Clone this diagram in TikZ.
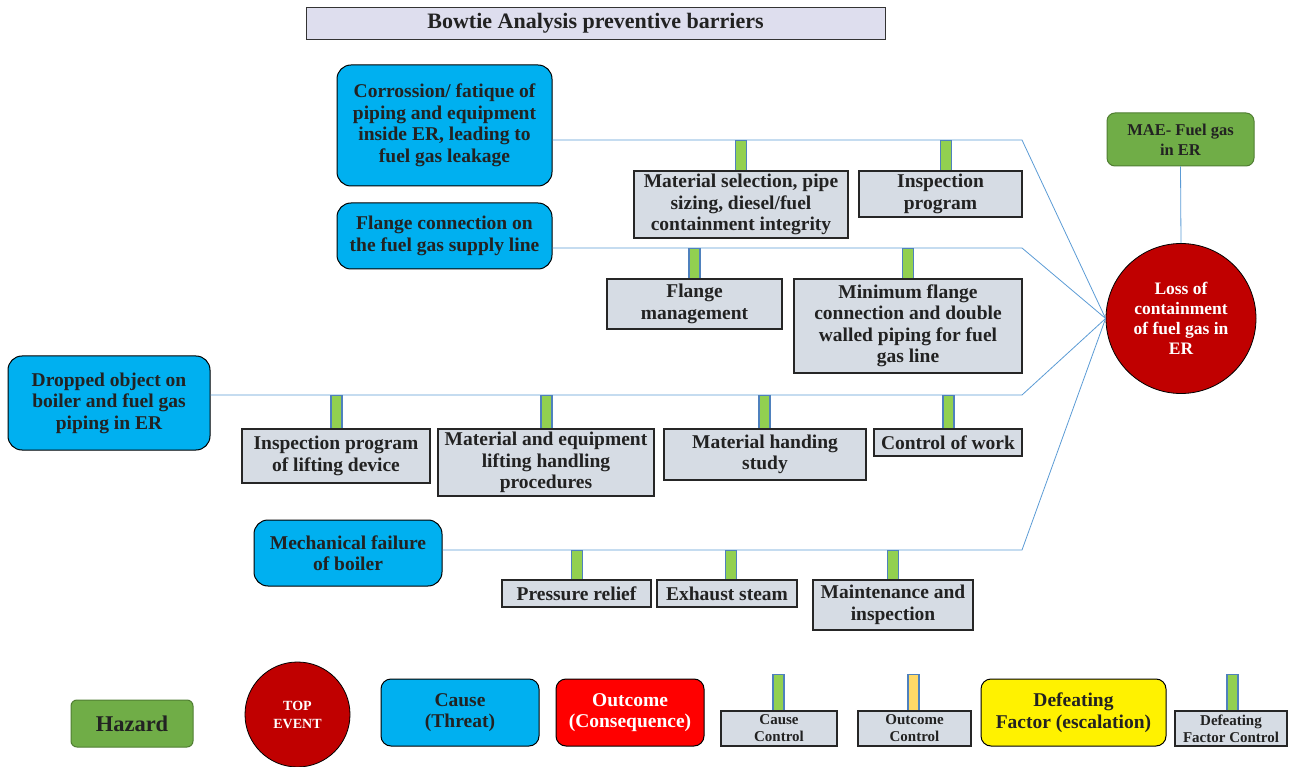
\documentclass[tikz,border=0pt]{standalone}
\usepackage{fontspec}
\setmainfont{Liberation Serif}
\usetikzlibrary{shapes.geometric}
\definecolor{causeblue}{HTML}{00B0F0}
\definecolor{barfill}{HTML}{D6DCE4}
\definecolor{stemgreen}{HTML}{92D050}
\definecolor{stemblue}{HTML}{4F81BD}
\definecolor{stemorange}{HTML}{FFD966}
\definecolor{linkblue}{HTML}{5B9BD5}
\definecolor{hazgreen}{HTML}{70AD47}
\definecolor{hazborder}{HTML}{507E32}
\definecolor{topred}{HTML}{C00000}
\definecolor{titlefill}{HTML}{DEDEEE}
\definecolor{txt}{HTML}{222222}
\begin{document}
\begin{tikzpicture}[x=1pt,y=-1pt,
  base/.style={inner sep=0pt, align=center, text=txt, font=\bfseries\fontsize{19.5}{21.5}\selectfont},
  barrier/.style={base, draw=black!85, line width=1.3pt, fill=barfill},
  cause/.style={base, draw=black, line width=1pt, fill=causeblue, rounded corners=14pt},
  stem/.style={draw=stemblue, fill=stemgreen, line width=1.2pt, minimum width=11pt, inner sep=0pt, anchor=north},
  link/.style={draw=linkblue, line width=0.8pt},
  legendsmall/.style={barrier, font=\bfseries\fontsize{15}{17}\selectfont}
]
\useasboundingbox (0,0) rectangle (1294,767);

% title
\node[base, draw=black!80, line width=0.8pt, fill=titlefill, minimum width=579pt, minimum height=32pt, font=\bfseries\fontsize{22}{24}\selectfont] (title) at (595.5,23) {Bowtie Analysis preventive barriers};

% top event and hazard
\node[circle, draw=black, line width=0.8pt, fill=topred, minimum size=150pt, inner sep=0pt, align=center, text=white, font=\bfseries\fontsize{17.5}{20}\selectfont] (top) at (1181,318.5) {Loss of\\containment\\of fuel gas in\\ER};
\node[base, draw=hazborder, line width=1pt, fill=hazgreen, rounded corners=8pt, minimum width=147pt, minimum height=53pt, font=\bfseries\fontsize{16.5}{20}\selectfont] (haz) at (1180.5,139.5) {MAE- Fuel gas\\in ER};
\draw[link] (haz.south) -- (top.north);

% causes
\node[cause, minimum width=215pt, minimum height=121pt] (c1) at (444.5,125.5) {Corrossion/ fatique of\\piping and equipment\\inside ER, leading to\\fuel gas leakage};
\node[cause, minimum width=215pt, minimum height=66pt] (c2) at (444.5,236) {Flange connection on\\the fuel gas supply line};
\node[cause, minimum width=202pt, minimum height=94pt] (c3) at (109,403) {Dropped object on\\boiler and fuel gas\\piping in ER};
\node[cause, minimum width=188pt, minimum height=66pt] (c4) at (348,553) {Mechanical failure\\of boiler};

% links
\coordinate (k1) at (1022,140);
\coordinate (k2) at (1022,248);
\coordinate (k3) at (1022,395);
\coordinate (k4) at (1022,550);
\draw[link] (c1.east |- k1) -- (k1) -- (top.west);
\draw[link] (c2.east |- k2) -- (k2) -- (top.west);
\draw[link] (c3.east |- k3) -- (k3) -- (top.west);
\draw[link] (c4.east |- k4) -- (k4) -- (top.west);

% stems
\node[stem, minimum height=31pt] (s1) at (741,140) {};
\node[stem, minimum height=31pt] (s2) at (946,140) {};
\node[stem, minimum height=31pt] (s3) at (694.5,248) {};
\node[stem, minimum height=31pt] (s4) at (908,248) {};
\node[stem, minimum height=34pt] (s5) at (336.5,395) {};
\node[stem, minimum height=34pt] (s6) at (546.5,395) {};
\node[stem, minimum height=34pt] (s7) at (764.5,395) {};
\node[stem, minimum height=34pt] (s8) at (948.5,395) {};
\node[stem, minimum height=30pt] (s9) at (577,550) {};
\node[stem, minimum height=30pt] (s10) at (731,550) {};
\node[stem, minimum height=30pt] (s11) at (893,550) {};

% barriers
\node[barrier, minimum width=214pt, minimum height=67pt] (b1) at (741,204.5) {Material selection, pipe\\sizing, diesel/fuel\\containment integrity};
\node[barrier, minimum width=163pt, minimum height=46pt] (b2) at (940.5,194) {Inspection\\program};
\node[barrier, minimum width=175pt, minimum height=50pt] (b3) at (694.5,304) {Flange\\management};
\node[barrier, minimum width=228pt, minimum height=94pt] (b4) at (908,326) {Minimum flange\\connection and double\\walled piping for fuel\\gas line};
\node[barrier, minimum width=188pt, minimum height=54pt] (b5) at (336,456) {Inspection program\\of lifting device};
\node[barrier, minimum width=216pt, minimum height=67pt] (b6) at (546,462.5) {Material and equipment\\lifting handling\\procedures};
\node[barrier, minimum width=202pt, minimum height=51pt] (b7) at (765,454.5) {Material handing\\study};
\node[barrier, minimum width=148pt, minimum height=27pt] (b8) at (948,442.5) {Control of work};
\node[barrier, minimum width=149pt, minimum height=27pt] (b9) at (576.5,593.5) {Pressure relief};
\node[barrier, minimum width=140pt, minimum height=27pt] (b10) at (727,593.5) {Exhaust steam};
\node[barrier, minimum width=160pt, minimum height=50pt] (b11) at (893,605) {Maintenance and\\inspection};

% legend
\node[base, draw=hazborder, line width=1pt, fill=hazgreen, rounded corners=6pt, minimum width=122pt, minimum height=47pt, font=\bfseries\fontsize{22.5}{25}\selectfont] (lhaz) at (132,723.5) {Hazard};
\node[circle, draw=black, line width=0.8pt, fill=topred, minimum size=105pt, inner sep=0pt, align=center, text=white, font=\bfseries\fontsize{14}{18}\selectfont] (ltop) at (297.5,714.5) {TOP\\EVENT};
\node[cause, rounded corners=10pt, minimum width=158pt, minimum height=67pt] (lcause) at (460,712.5) {Cause\\(Threat)};
\node[base, draw=black, line width=1pt, fill=red, rounded corners=10pt, text=white, minimum width=148pt, minimum height=67pt] (lout) at (630,712.5) {Outcome\\(Consequence)};
\node[stem, minimum height=37pt] (ls1) at (778.5,674) {};
\node[legendsmall, minimum width=116pt, minimum height=35pt] (lcc) at (779,728.5) {Cause\\Control};
\node[stem, fill=stemorange, minimum height=37pt] (ls2) at (913.5,674) {};
\node[legendsmall, minimum width=113pt, minimum height=35pt] (loc) at (914.5,728.5) {Outcome\\Control};
\node[base, draw=black, line width=1pt, fill=yellow, rounded corners=10pt, minimum width=185pt, minimum height=67pt] (ldef) at (1073.5,712.5) {Defeating\\Factor (escalation)};
\node[stem, minimum height=37pt] (ls3) at (1232.5,674) {};
\node[legendsmall, minimum width=112pt, minimum height=35pt] (ldfc) at (1231,728.5) {Defeating\\Factor Control};
\end{tikzpicture}
\end{document}
